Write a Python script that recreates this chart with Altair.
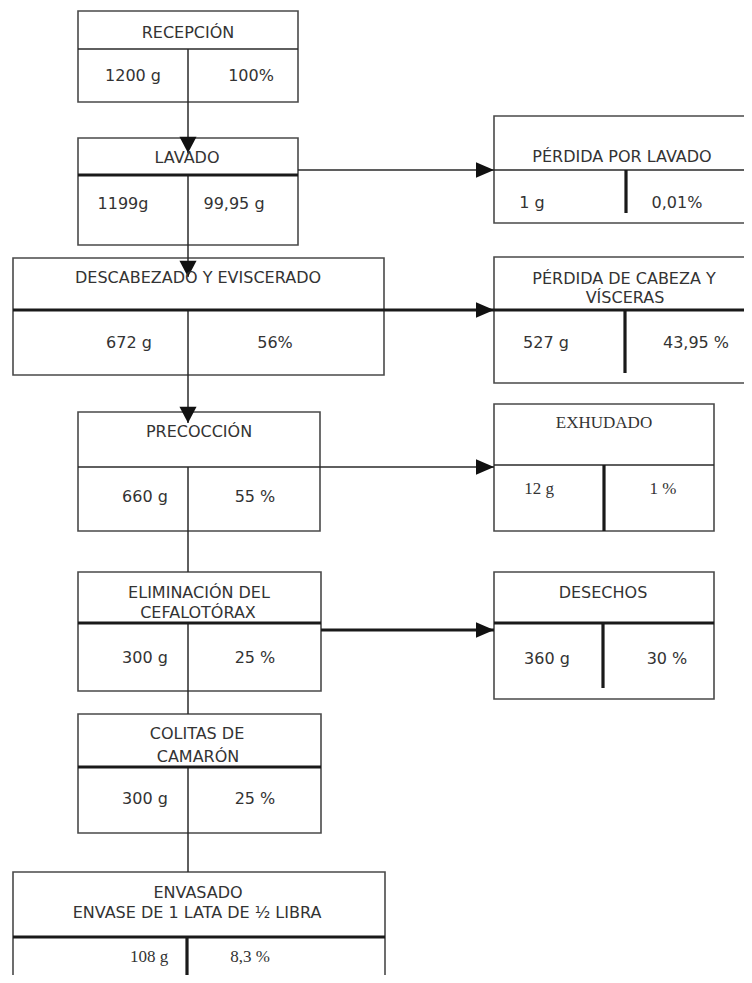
import altair as alt
import pandas as pd

# ---- diagram layout (diagram units = page pixels) ----
box_x0 = [78, 78, 13, 78, 78, 78, 13, 494, 494, 494, 494]
box_x1 = [298, 298, 384, 320, 321, 321, 385, 760, 760, 714, 714]
box_y0 = [11, 138, 258, 412, 572, 714, 872, 116, 257, 404, 572]
box_y1 = [102, 245, 375, 531, 691, 833, 990, 223, 383, 531, 699]

thin_x = [78, 188, 188, 188, 188, 188, 188, 78, 298, 494, 494]
thin_x2 = [298, 188, 188, 188, 188, 188, 188, 494, 494, 760, 714]
thin_y = [49, 49, 175, 310, 467, 623, 767, 467, 170, 170, 465]
thin_y2 = [49, 153, 277, 423, 572, 714, 872, 467, 170, 170, 465]

thick_x = [78, 13, 78, 321, 494, 78, 13, 626, 625, 604, 603, 187]
thick_x2 = [298, 760, 321, 494, 714, 321, 385, 626, 625, 604, 603, 187]
thick_y = [175, 310, 623, 630, 623, 767, 937, 170, 311, 465, 623, 937]
thick_y2 = [175, 310, 623, 630, 623, 767, 937, 213, 373, 531, 688, 990]

down_tip_x = [188, 188, 188]
down_tip_y = [153, 277, 423]
right_tip_x = [494, 494, 494, 494]
right_tip_y = [170, 310, 467, 630]

sans_text = ["RECEPCIÓN", "1200 g", "100%",
             "LAVADO", "1199g", "99,95 g",
             "DESCABEZADO Y EVISCERADO", "672 g", "56%",
             "PRECOCCIÓN", "660 g", "55 %",
             "ELIMINACIÓN DEL", "CEFALOTÓRAX", "300 g", "25 %",
             "COLITAS DE", "CAMARÓN", "300 g", "25 %",
             "ENVASADO", "ENVASE DE 1 LATA DE ½ LIBRA",
             "PÉRDIDA POR LAVADO", "1 g", "0,01%",
             "PÉRDIDA DE CABEZA Y", "VÍSCERAS", "527 g", "43,95 %",
             "DESECHOS", "360 g", "30 %"]
sans_x = [188, 133, 251,
          187, 123, 234,
          198, 129, 275,
          199, 145, 255,
          199, 198, 145, 255,
          197, 198, 145, 255,
          198, 197,
          622, 532, 677,
          624, 625, 546, 696,
          603, 547, 667]
sans_y = [33, 76, 76,
          158, 204, 204,
          278, 343, 343,
          432, 497, 497,
          593, 613, 658, 658,
          734, 757, 799, 799,
          893, 913,
          157, 203, 203,
          279, 298, 343, 343,
          593, 659, 659]

serif_text = ["EXHUDADO", "12 g", "1 %", "108 g", "8,3 %"]
serif_x = [604, 539, 663, 149, 250]
serif_y = [423, 489, 489, 957, 957]

# ---- tables ----
boxes = pd.DataFrame({"x0": box_x0, "x1": box_x1, "y0": box_y0, "y1": box_y1})
thin = pd.DataFrame({"x0": thin_x, "x1": thin_x2, "y0": thin_y, "y1": thin_y2})
thick = pd.DataFrame({"x0": thick_x, "x1": thick_x2, "y0": thick_y, "y1": thick_y2})
down = pd.DataFrame({"x0": down_tip_x, "y0": down_tip_y})
right = pd.DataFrame({"x0": right_tip_x, "y0": right_tip_y})
sans = pd.DataFrame({"label": sans_text, "x0": sans_x, "y0": sans_y})
serif = pd.DataFrame({"label": serif_text, "x0": serif_x, "y0": serif_y})

W, H = 736, 967
xs = alt.Scale(domain=[8, 8 + W], nice=False, zero=False)
ys = alt.Scale(domain=[8, 8 + H], nice=False, zero=False, reverse=True)

X = alt.X("x0:Q", scale=xs, axis=None)
Y = alt.Y("y0:Q", scale=ys, axis=None)

rects = alt.Chart(boxes).mark_rect(
    fill="white", stroke="#4a4a4a", strokeWidth=1.6, clip=True
).encode(x=X, x2="x1:Q", y=Y, y2="y1:Q")

thin_lines = alt.Chart(thin).mark_rule(
    color="#2a2a2a", strokeWidth=1.5, clip=True
).encode(x=X, x2="x1:Q", y=Y, y2="y1:Q")

thick_lines = alt.Chart(thick).mark_rule(
    color="#1a1a1a", strokeWidth=3.2, clip=True
).encode(x=X, x2="x1:Q", y=Y, y2="y1:Q")

down_heads = alt.Chart(down).mark_point(
    shape="M0,0 L-0.95,-1.8 L0.95,-1.8 Z", filled=True, size=324,
    color="#111111", opacity=1, strokeWidth=0
).encode(x=X, y=Y)

right_heads = alt.Chart(right).mark_point(
    shape="M0,0 L-2,-0.85 L-2,0.85 Z", filled=True, size=324,
    color="#111111", opacity=1, strokeWidth=0
).encode(x=X, y=Y)

sans_labels = alt.Chart(sans).mark_text(
    font="DejaVu Sans", fontSize=16, color="#333333",
    align="center", baseline="middle"
).encode(x=X, y=Y, text="label:N")

serif_labels = alt.Chart(serif).mark_text(
    font="Liberation Serif", fontSize=17, color="#333333",
    align="center", baseline="middle"
).encode(x=X, y=Y, text="label:N")

chart = alt.layer(
    rects, thin_lines, thick_lines, down_heads, right_heads, sans_labels, serif_labels
).properties(
    width=W, height=H, padding=0, background="white"
).configure_view(stroke=None)

chart.save("out.html", embed_options={"renderer": "svg", "actions": False})
